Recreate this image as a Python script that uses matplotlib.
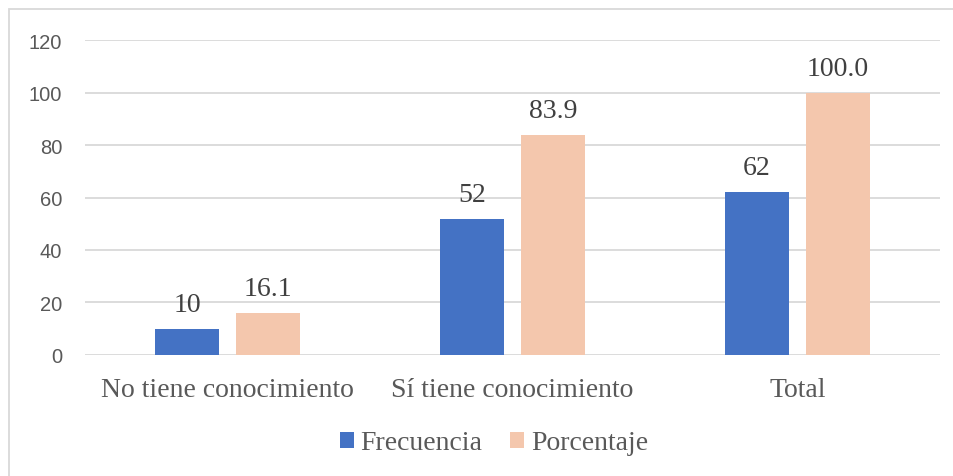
import numpy as np
import matplotlib.pyplot as plt
from matplotlib.patches import Rectangle

categorias = ['No tiene conocimiento', 'Sí tiene conocimiento', 'Total']
frecuencia = [10, 52, 62]
porcentaje = [16.1, 83.9, 100.0]
yticks = [0, 20, 40, 60, 80, 100, 120]

azul = '#4472C4'
salmon = '#F4C7AD'
gris_txt = '#595959'
serif = ['Liberation Serif', 'DejaVu Serif']
sans = ['Liberation Sans', 'DejaVu Sans']

fig = plt.figure(figsize=(9.54, 4.77), dpi=100)
ax = fig.add_axes([0.0891, 0.2537, 0.8962, 0.6603])

# marco del gráfico (solo se ven los bordes superior e izquierdo)
fig.patches.append(Rectangle((9 / 954, -0.5), 2, 1 - 10 / 477 + 0.5,
                             transform=fig.transFigure, fill=False,
                             edgecolor='#D9D9D9', lw=1.3))

x = np.arange(len(categorias))
w = 0.2246
off = 0.142
b1 = ax.bar(x - off, frecuencia, w, color=azul, label='Frecuencia', zorder=3)
b2 = ax.bar(x + off, porcentaje, w, color=salmon, label='Porcentaje', zorder=3)

for bars, vals, fmt in ((b1, frecuencia, '{:d}'), (b2, porcentaje, '{:.1f}')):
    for r, v in zip(bars, vals):
        ax.annotate(fmt.format(v), (r.get_x() + r.get_width() / 2, v),
                    xytext=(0, 8.5), textcoords='offset points',
                    ha='center', va='bottom', fontsize=20,
                    family=serif, color='#404040')

ax.set_xlim(-0.5, 2.5)
ax.set_ylim(0, 120)
ax.set_yticks(yticks)
ax.set_xticks(x)
ax.set_xticklabels(categorias, family=serif, fontsize=20, color=gris_txt)
for t in ax.get_yticklabels():
    t.set_family(sans)
    t.set_fontsize(14.5)
    t.set_color(gris_txt)
ax.tick_params(axis='both', length=0)
ax.tick_params(axis='y', pad=16.5)
ax.tick_params(axis='x', pad=15.5)
ax.grid(axis='y', color='#D9D9D9', lw=1.3, zorder=0)
for s in ax.spines.values():
    s.set_visible(False)

leg = ax.legend(loc='center', bbox_to_anchor=(494 / 954, 1 - 444 / 477),
                bbox_transform=fig.transFigure, ncol=2, frameon=False,
                prop={'family': serif, 'size': 20}, handlelength=0.5,
                handleheight=0.5, handletextpad=0.25, columnspacing=1.0)
for t in leg.get_texts():
    t.set_color(gris_txt)

fig.savefig('out.png', dpi=100)
